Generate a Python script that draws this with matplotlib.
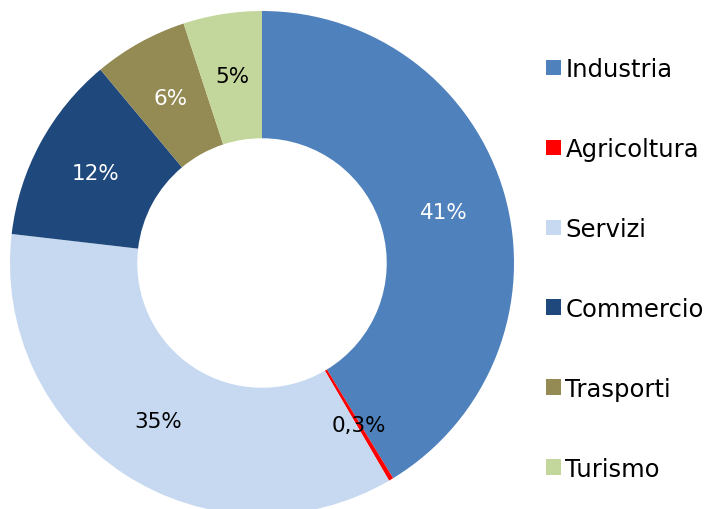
import numpy as np
import matplotlib.pyplot as plt

categories = ["Industria", "Agricoltura", "Servizi", "Commercio", "Trasporti", "Turismo"]
shares = [41, 0.3, 35, 12, 6, 5]
pct_labels = ["41%", "0,3%", "35%", "12%", "6%", "5%"]
colors = ["#4F81BD", "#FF0000", "#C6D9F0", "#1F497D", "#948A54", "#C3D69B"]
label_colors = ["white", "black", "black", "white", "white", "black"]

plt.rcParams["font.family"] = ["DejaVu Sans"]

fig = plt.figure(figsize=(7.15, 5.1), dpi=100)
ax = fig.add_axes([10 / 715, -6 / 510, 504 / 715, 504 / 510])

wedges, _ = ax.pie(shares, colors=colors, startangle=90, counterclock=False,
                   radius=1.0, wedgeprops=dict(width=0.505, linewidth=0))
ax.set_xlim(-1, 1)
ax.set_ylim(-1, 1)
ax.set_aspect("equal")

for w, txt, c in zip(wedges, pct_labels, label_colors):
    ang = np.deg2rad((w.theta1 + w.theta2) / 2)
    r = 0.75
    ax.text(r * np.cos(ang), r * np.sin(ang), txt, color=c, fontsize=15.5,
            ha="center", va="center")

fig.legend(wedges, categories, loc="upper left", bbox_to_anchor=(546 / 715, 1 - 58 / 510),
           frameon=False, fontsize=17.5, handlelength=0.6, handleheight=0.6,
           handletextpad=0.2, labelspacing=2.3, borderaxespad=0, borderpad=0)

fig.savefig("out.png", dpi=100)
